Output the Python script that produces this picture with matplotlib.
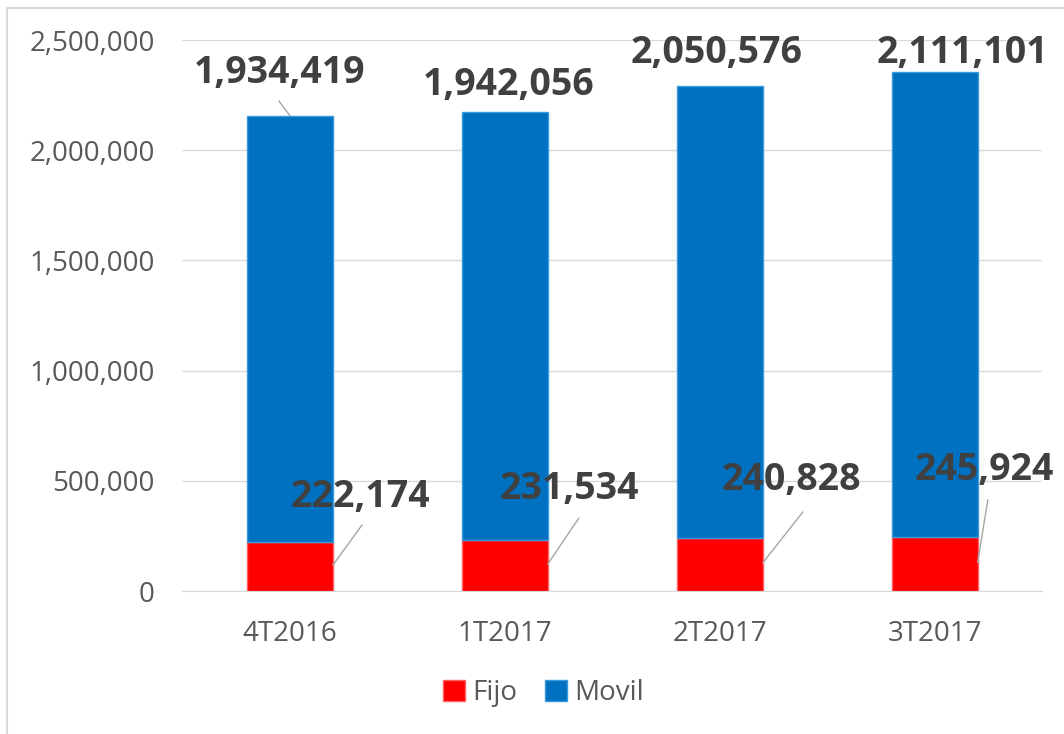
import matplotlib.pyplot as plt
import matplotlib.patches as mpatches
from matplotlib.ticker import FuncFormatter

periodos = ['4T2016', '1T2017', '2T2017', '3T2017']
fijo = [222174, 231534, 240828, 245924]
movil = [1934419, 1942056, 2050576, 2111101]

rojo = '#FF0000'
azul = '#0070C0'
gris_txt = '#404040'

plt.rcParams['font.family'] = ['Open Sans', 'DejaVu Sans']

fig = plt.figure(figsize=(10.64, 7.34), dpi=100)
ax = fig.add_axes([0.1715, 0.1948, 0.808, 0.7507])

x = range(len(periodos))
ax.bar(x, fijo, width=0.4, color=rojo, edgecolor='#FF6060', linewidth=1, label='Fijo', zorder=3)
ax.bar(x, movil, width=0.4, bottom=fijo, color=azul, edgecolor='#3A9AE0', linewidth=1,
       label='Movil', zorder=3)

ax.set_xlim(-0.5, 3.5)
ax.set_ylim(0, 2500000)
ax.set_yticks(range(0, 2500001, 500000))
ax.yaxis.set_major_formatter(FuncFormatter(lambda v, p: f'{int(v):,}'))
ax.grid(axis='y', color='#D9D9D9', linewidth=1, zorder=0)
for s in ['top', 'right', 'left']:
    ax.spines[s].set_visible(False)
ax.spines['bottom'].set_color('#D9D9D9')
ax.tick_params(axis='both', length=0, labelsize=20, colors='#595959')
ax.set_xticks(list(x))
ax.set_xticklabels(periodos)
ax.tick_params(axis='x', pad=21)
ax.tick_params(axis='y', pad=20)

# etiquetas de Movil (sobre la barra) y Fijo (a la derecha), con lineas guia
mov_txt = [(-0.047, 2350000), (0.02, 2296000), (-0.014, 2441000), (0.13, 2441000)]
fij_txt = [(0.326, 426000), (0.30, 463000), (0.335, 504000), (0.23, 549000)]
fij_line = [(0.335, 299000), (0.344, 331000), (0.386, 358000), (0.247, 413000)]
for i in x:
    tx, ty = mov_txt[i]
    ax.text(i + tx, ty, f'{movil[i]:,}', ha='center', va='center', fontsize=27,
            fontweight='bold', color=gris_txt, zorder=5)
    fx, fy = fij_txt[i]
    ax.text(i + fx, fy, f'{fijo[i]:,}', ha='center', va='center', fontsize=27,
            fontweight='bold', color=gris_txt, zorder=5)
    lx, ly = fij_line[i]
    ax.plot([i + 0.2, i + lx], [fijo[i] * 0.53, ly], color='#A6A6A6', lw=1, zorder=4)
ax.plot([-0.051, 0.0], [2223000, fijo[0] + movil[0]], color='#A6A6A6', lw=1, zorder=4)

ax.legend(loc='center', bbox_to_anchor=(0.42, -0.185), ncol=2, frameon=False,
          fontsize=20, handlelength=0.8, handleheight=0.8, handletextpad=0.25,
          columnspacing=1.0, labelcolor='#595959')

fig.patches.append(mpatches.Rectangle((0.007, -0.1), 1.2, 1.089, transform=fig.transFigure,
                                      fill=False, edgecolor='#D9D9D9', lw=1.5))

fig.savefig('out.png', dpi=100)
